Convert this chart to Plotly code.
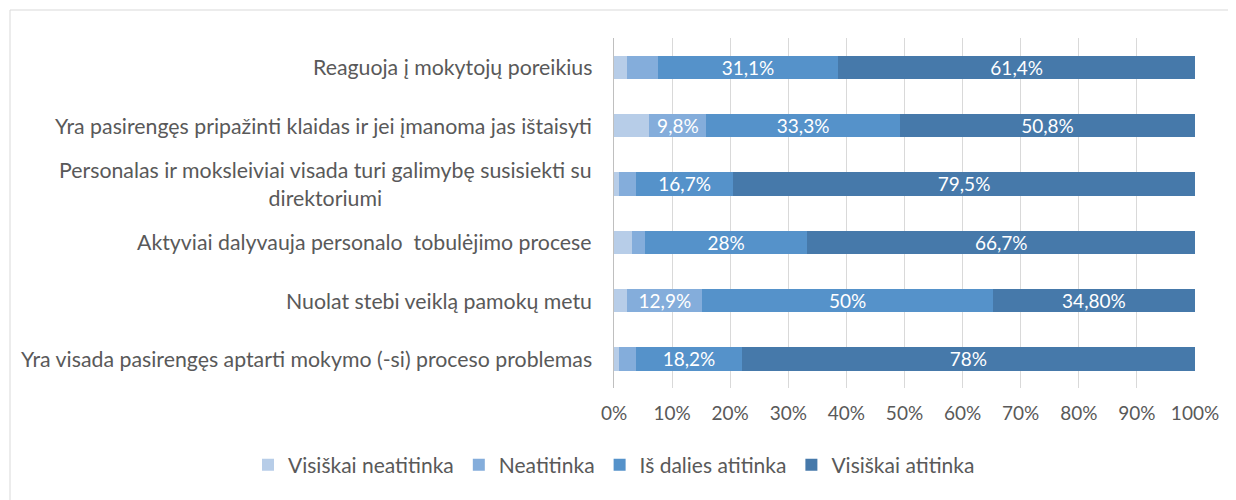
import plotly.graph_objects as go

categories = [
    "Reaguoja į mokytojų poreikius",
    "Yra pasirengęs pripažinti klaidas ir jei įmanoma jas ištaisyti",
    "Personalas ir moksleiviai visada turi galimybę susisiekti su<br>direktoriumi",
    "Aktyviai dalyvauja personalo  tobulėjimo procese",
    "Nuolat stebi veiklą pamokų metu",
    "Yra visada pasirengęs aptarti mokymo (-si) proceso problemas",
]
series_names = ["Visiškai neatitinka", "Neatitinka", "Iš dalies atitinka", "Visiškai atitinka"]
visiskai_neatitinka = [2.3, 6.1, 0.8, 3.1, 2.3, 0.8]
neatitinka = [5.2, 9.8, 3.0, 2.2, 12.9, 3.0]
is_dalies = [31.1, 33.3, 16.7, 28.0, 50.0, 18.2]
visiskai_atitinka = [61.4, 50.8, 79.5, 66.7, 34.8, 78.0]
labels_1 = ["", "", "", "", "", ""]
labels_2 = ["", "9,8%", "", "", "12,9%", ""]
labels_3 = ["31,1%", "33,3%", "16,7%", "28%", "50%", "18,2%"]
labels_4 = ["61,4%", "50,8%", "79,5%", "66,7%", "34,80%", "78%"]
tick_vals = [0, 10, 20, 30, 40, 50, 60, 70, 80, 90, 100]
tick_text = ["0%", "10%", "20%", "30%", "40%", "50%", "60%", "70%", "80%", "90%", "100%"]

colors = ["#B7CDE8", "#84ADDB", "#5592CA", "#4679AA"]
values = [visiskai_neatitinka, neatitinka, is_dalies, visiskai_atitinka]
texts = [labels_1, labels_2, labels_3, labels_4]

FONT = "Lato, 'Open Sans', sans-serif"
TXT = "#595959"
fig = go.Figure()
for name, vals, col, txt in zip(series_names, values, colors, texts):
    fig.add_trace(go.Bar(
        name=name, y=categories, x=vals, orientation="h",
        marker=dict(color=col, line=dict(width=0)),
        text=txt, textposition="inside", insidetextanchor="middle",
        textangle=0, textfont=dict(color="white", size=19, family=FONT),
        cliponaxis=False,
    ))

for c in categories:
    fig.add_annotation(
        x=0, xref="paper", y=c, yref="y", text=c, showarrow=False,
        xanchor="right", xshift=-20, align="center",
        font=dict(size=21.3, color=TXT, family=FONT),
    )

# page body has an 8px offset
W, H = 1236, 500
L, T = 606, 30
R = W - 1187
B = H - 380
pw, ph = W - L - R, H - T - B
fig.add_shape(type="rect", xref="paper", yref="paper",
              x0=(2 - L) / pw, x1=(1240 - L) / pw,
              y0=-(B + 10) / ph, y1=1 + (T - 2) / ph,
              line=dict(color="#D9D9D9", width=1), layer="below")

fig.update_layout(
    barmode="stack", bargap=0.6,
    width=W, height=H,
    margin=dict(l=L, r=R, t=T, b=B, autoexpand=False),
    plot_bgcolor="white", paper_bgcolor="white",
    font=dict(family=FONT, size=19, color=TXT),
    uniformtext=dict(minsize=19, mode="show"),
    showlegend=True,
    legend=dict(orientation="h", xref="paper", x=(240 - L) / pw, xanchor="left",
                yref="paper", y=(380 - 457) / ph, yanchor="middle",
                font=dict(size=21, color=TXT), traceorder="normal",
                itemwidth=30),
    xaxis=dict(range=[0, 100], tickvals=tick_vals, ticktext=tick_text,
               showgrid=True, gridcolor="#D9D9D9", gridwidth=1,
               zeroline=False, showline=False, ticks="",
               ticklabelstandoff=12,
               tickfont=dict(size=19, color=TXT)),
    yaxis=dict(autorange="reversed", showticklabels=False, ticks="",
               showline=True, linecolor="#BFBFBF", linewidth=1),
)
fig.write_html("out.html")
